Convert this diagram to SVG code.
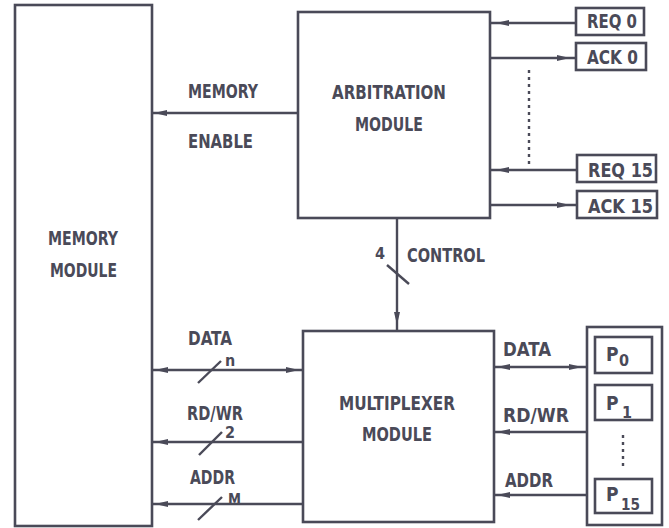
<svg xmlns="http://www.w3.org/2000/svg" xmlns:xlink="http://www.w3.org/1999/xlink" width="669" height="528" viewBox="0 0 669 528">
<defs>
<style>
.box{fill:none;stroke:#4a4a58;stroke-width:2.6}
.ln{fill:none;stroke:#4a4a58;stroke-width:2.4}
.dot{fill:none;stroke:#4a4a58;stroke-width:2.4;stroke-dasharray:3 4}
.t{font-family:"DejaVu Sans Condensed","DejaVu Sans",sans-serif;font-weight:bold;font-size:19px;fill:#4a4a58}
.s{font-family:"DejaVu Sans Condensed","DejaVu Sans",sans-serif;font-weight:bold;font-size:16px;fill:#4a4a58}
.dart{fill:#4a4a58}
</style>
<path id="dart" d="M0,0 L13,-3 L13,3 Z"/>
</defs>
<rect width="669" height="528" fill="#ffffff"/>

<g id="memory">
<rect class="box" x="15" y="5" width="137" height="521"/>
<text class="t" x="48" y="245" textLength="70" lengthAdjust="spacingAndGlyphs">MEMORY</text>
<text class="t" x="50" y="277" textLength="67" lengthAdjust="spacingAndGlyphs">MODULE</text>
</g>

<g id="arbitration">
<rect class="box" x="298" y="12" width="192" height="206"/>
<text class="t" x="332" y="99" textLength="114" lengthAdjust="spacingAndGlyphs">ARBITRATION</text>
<text class="t" x="355" y="131" textLength="68" lengthAdjust="spacingAndGlyphs">MODULE</text>
</g>

<g id="multiplexer">
<rect class="box" x="303" y="331" width="191" height="191"/>
<text class="t" x="339" y="410" textLength="116" lengthAdjust="spacingAndGlyphs">MULTIPLEXER</text>
<text class="t" x="362" y="441" textLength="70" lengthAdjust="spacingAndGlyphs">MODULE</text>
</g>

<g id="req0">
<rect class="box" x="576" y="8" width="68" height="27"/>
<text class="t" x="587" y="28" textLength="50" lengthAdjust="spacingAndGlyphs">REQ 0</text>
</g>
<g id="ack0">
<rect class="box" x="576" y="43" width="70" height="27"/>
<text class="t" x="587" y="64" textLength="51" lengthAdjust="spacingAndGlyphs">ACK 0</text>
</g>
<g id="req15">
<rect class="box" x="577" y="155" width="79" height="27"/>
<text class="t" x="588" y="177" textLength="65" lengthAdjust="spacingAndGlyphs">REQ 15</text>
</g>
<g id="ack15">
<rect class="box" x="577" y="191" width="80" height="27"/>
<text class="t" x="588" y="213" textLength="65" lengthAdjust="spacingAndGlyphs">ACK 15</text>
</g>

<g id="processors">
<rect class="box" x="587" y="327" width="75" height="198"/>
<g id="p0">
<rect class="box" x="595" y="337" width="57" height="36"/>
<text class="t" x="606" y="361">P</text><text class="s" x="619" y="366">0</text>
</g>
<g id="p1">
<rect class="box" x="595" y="385" width="57" height="35"/>
<text class="t" x="606" y="410">P</text><text class="s" x="622" y="418">1</text>
</g>
<g id="p15">
<rect class="box" x="595" y="479" width="57" height="34"/>
<text class="t" x="606" y="501">P</text><text class="s" x="621" y="510" textLength="19" lengthAdjust="spacingAndGlyphs">15</text>
</g>
<line class="dot" x1="623" y1="435" x2="623" y2="468"/>
</g>

<g id="connectors">
<!-- memory enable -->
<line class="ln" x1="152" y1="113" x2="298" y2="113"/>
<use xlink:href="#dart" class="dart" transform="translate(154,113)"/>
<text class="t" x="188" y="98" textLength="70" lengthAdjust="spacingAndGlyphs">MEMORY</text>
<text class="t" x="188" y="148" textLength="65" lengthAdjust="spacingAndGlyphs">ENABLE</text>

<!-- req/ack lines -->
<line class="ln" x1="490" y1="23" x2="576" y2="23"/>
<use xlink:href="#dart" class="dart" transform="translate(496,23)"/>
<line class="ln" x1="490" y1="58" x2="576" y2="58"/>
<use xlink:href="#dart" class="dart" transform="translate(570,58) rotate(180)"/>
<line class="ln" x1="490" y1="170" x2="577" y2="170"/>
<use xlink:href="#dart" class="dart" transform="translate(496,170)"/>
<line class="ln" x1="490" y1="205" x2="577" y2="205"/>
<use xlink:href="#dart" class="dart" transform="translate(570,205) rotate(180)"/>
<line class="dot" x1="529" y1="70" x2="529" y2="164"/>

<!-- control -->
<line class="ln" x1="397" y1="218" x2="397" y2="331"/>
<use xlink:href="#dart" class="dart" transform="translate(397,325) rotate(-90)"/>
<line class="ln" x1="387" y1="265" x2="409" y2="284"/>
<text class="s" x="375" y="259">4</text>
<text class="t" x="407" y="262" textLength="78" lengthAdjust="spacingAndGlyphs">CONTROL</text>

<!-- left buses -->
<line class="ln" x1="152" y1="370" x2="303" y2="370"/>
<use xlink:href="#dart" class="dart" transform="translate(155,370)"/>
<use xlink:href="#dart" class="dart" transform="translate(299,370) rotate(180)"/>
<line class="ln" x1="198" y1="383" x2="221" y2="361"/>
<text class="t" x="188" y="345" textLength="44" lengthAdjust="spacingAndGlyphs">DATA</text>
<text class="s" x="225" y="366">n</text>

<line class="ln" x1="152" y1="442" x2="303" y2="442"/>
<use xlink:href="#dart" class="dart" transform="translate(155,442)"/>
<line class="ln" x1="199" y1="455" x2="222" y2="432"/>
<text class="t" x="187" y="420" textLength="56" lengthAdjust="spacingAndGlyphs">RD/WR</text>
<text class="s" x="225" y="438">2</text>

<line class="ln" x1="152" y1="504" x2="303" y2="504"/>
<use xlink:href="#dart" class="dart" transform="translate(155,504)"/>
<line class="ln" x1="198" y1="520" x2="222" y2="497"/>
<text class="t" x="190" y="484" textLength="45" lengthAdjust="spacingAndGlyphs">ADDR</text>
<text class="s" x="228" y="505" textLength="13" lengthAdjust="spacingAndGlyphs">M</text>

<!-- right buses -->
<line class="ln" x1="494" y1="367" x2="587" y2="367"/>
<use xlink:href="#dart" class="dart" transform="translate(497,367)"/>
<use xlink:href="#dart" class="dart" transform="translate(582,367) rotate(180)"/>
<text class="t" x="503" y="356" textLength="48" lengthAdjust="spacingAndGlyphs">DATA</text>

<line class="ln" x1="494" y1="432" x2="587" y2="432"/>
<use xlink:href="#dart" class="dart" transform="translate(497,432)"/>
<text class="t" x="503" y="422" textLength="66" lengthAdjust="spacingAndGlyphs">RD/WR</text>

<line class="ln" x1="494" y1="495" x2="587" y2="495"/>
<use xlink:href="#dart" class="dart" transform="translate(497,495)"/>
<text class="t" x="505" y="487" textLength="48" lengthAdjust="spacingAndGlyphs">ADDR</text>
</g>
</svg>
